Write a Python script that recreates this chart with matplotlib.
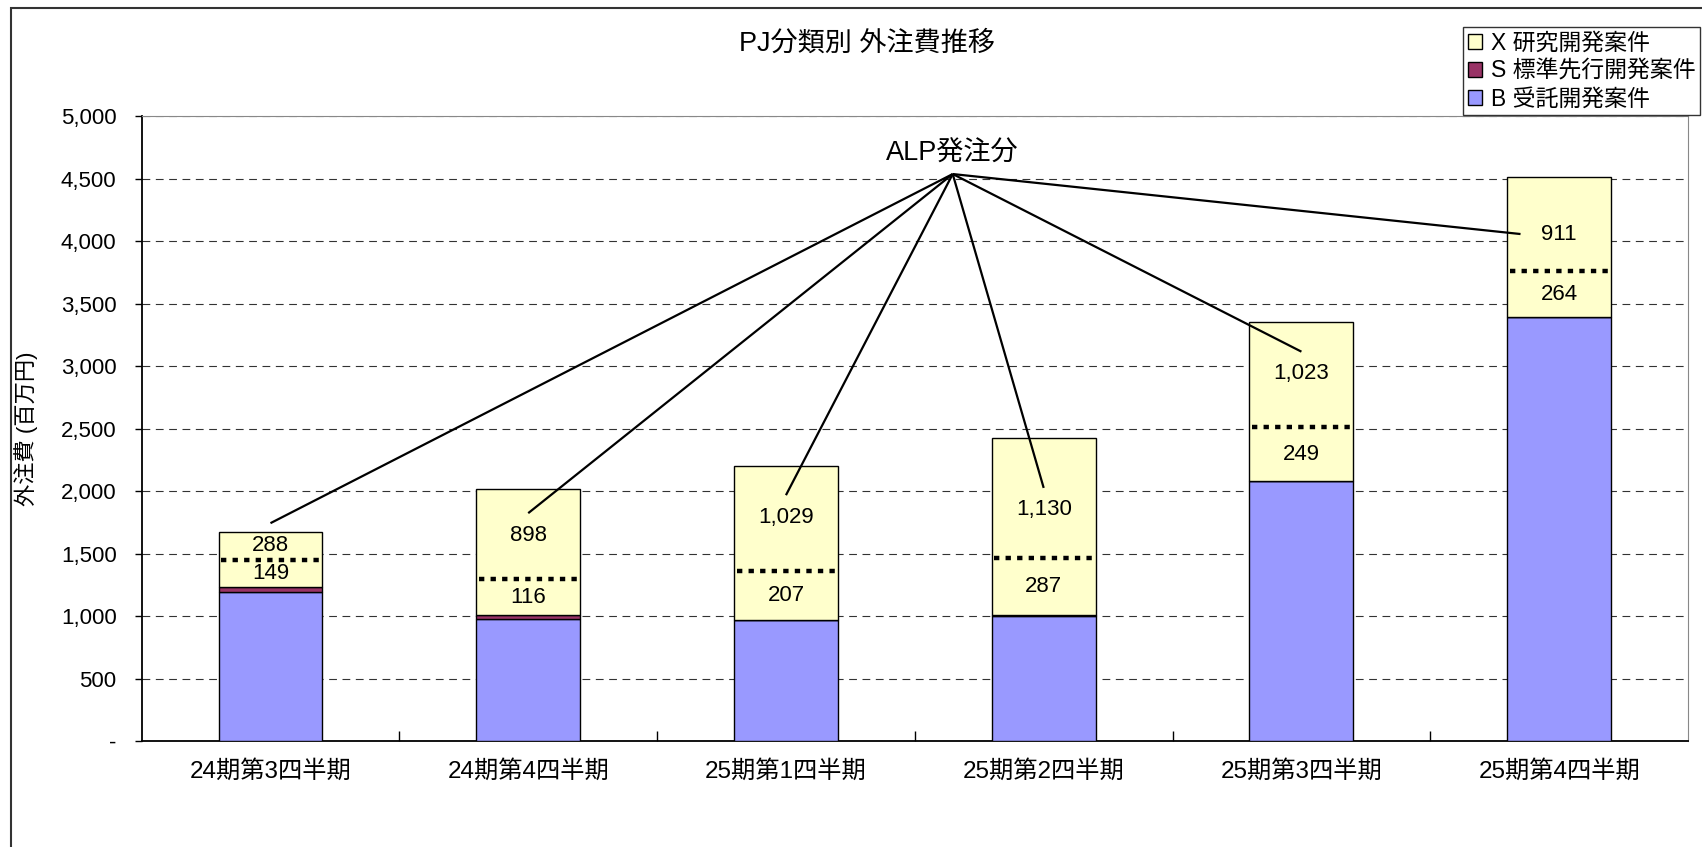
import matplotlib
matplotlib.use('Agg')
import matplotlib.pyplot as plt
from matplotlib.patches import Patch, Rectangle
from matplotlib.ticker import FuncFormatter, FixedLocator

plt.rcParams['font.family'] = ['Liberation Sans', 'Noto Sans CJK JP']

# data (百万円)
categories = ['24期第3四半期', '24期第4四半期', '25期第1四半期',
              '25期第2四半期', '25期第3四半期', '25期第4四半期']
b_values = [1192, 976, 968, 1000, 2080, 3390]   # B 受託開発案件
s_values = [43, 29, 0, 5, 0, 0]                  # S 標準先行開発案件
x_values = [437, 1014, 1236, 1417, 1272, 1122]   # X 研究開発案件
x_other = [149, 116, 207, 287, 249, 264]         # X のうち ALP 以外
x_alp = [288, 898, 1029, 1130, 1023, 911]        # X のうち ALP発注分
split_level = [1448, 1298, 1360, 1466, 2510, 3762]  # 点線の高さ

# annotation layout (data units)
alp_label_y = [1568, 1648, 1792, 1850, 2940, 4056]
ALP_TEXT = (2.647, 4700)
ALP_APEX = (2.647, 4536)

COL_B = '#9999FF'
COL_S = '#993366'
COL_X = '#FFFFCC'
BAR_W = 0.403


def main():
    fig = plt.figure(figsize=(17.02, 8.47), dpi=100)
    ax = fig.add_axes([0.0832, 0.1251, 0.9086, 0.7379])

    pos = range(len(categories))
    s_bottom = b_values
    x_bottom = [b + s for b, s in zip(b_values, s_values)]
    ax.bar(pos, b_values, BAR_W, color=COL_B, edgecolor='black', lw=1, zorder=3)
    ax.bar(pos, s_values, BAR_W, bottom=s_bottom, color=COL_S, edgecolor='black', lw=1, zorder=3)
    ax.bar(pos, x_values, BAR_W, bottom=x_bottom, color=COL_X, edgecolor='black', lw=1, zorder=3)

    # dotted split line + labels inside X segment
    for i in pos:
        ax.hlines(split_level[i], i - BAR_W / 2 + 0.01, i + BAR_W / 2 - 0.01, colors='black',
                  lw=3.2, linestyles=(0, (1.2, 1.4)), zorder=4)
        low_mid = (x_bottom[i] + split_level[i]) / 2
        ax.text(i, low_mid, f'{x_other[i]:,}', ha='center', va='center', fontsize=16, zorder=5)
        ax.text(i, alp_label_y[i], f'{x_alp[i]:,}', ha='center', va='center', fontsize=16, zorder=5)

    # ALP leader lines
    for i in pos:
        if i == len(categories) - 1:
            end = (i - 0.15, alp_label_y[i])
        else:
            end = (i, alp_label_y[i] + 175)
        ax.plot([ALP_APEX[0], end[0]], [ALP_APEX[1], end[1]], color='black', lw=1.6, zorder=6,
                solid_capstyle='butt')
    ax.text(ALP_TEXT[0], ALP_TEXT[1], 'ALP発注分', ha='center', va='center', fontsize=19.5)

    # axes
    ax.set_xlim(-0.5, 5.5)
    ax.set_ylim(0, 5000)
    ax.set_yticks(range(0, 5001, 500))
    ax.yaxis.set_major_formatter(FuncFormatter(lambda v, p: '-' if v == 0 else f'{v:,.0f}'))
    ax.tick_params(axis='y', direction='out', length=5, width=1, pad=13, labelsize=16)
    ax.yaxis.grid(True, linestyle=(0, (7, 5)), color='#333333', lw=0.8, zorder=0)
    ax.set_axisbelow(True)

    ax.xaxis.set_major_locator(FixedLocator([i + 0.5 for i in range(5)]))
    ax.xaxis.set_minor_locator(FixedLocator(list(pos)))
    ax.set_xticklabels([])
    ax.set_xticklabels(categories, minor=True)
    ax.tick_params(axis='x', which='major', direction='in', length=7, width=1)
    ax.tick_params(axis='x', which='minor', length=0, pad=14, labelsize=17.5)

    for side in ('top', 'right'):
        ax.spines[side].set_color('#888888')
    for side in ('left', 'bottom'):
        ax.spines[side].set_color('black')
        ax.spines[side].set_linewidth(1.3)

    ax.set_ylabel('外注費 (百万円)', fontsize=16)
    ax.yaxis.set_label_coords(-0.067, 0.5)

    fig.text(867 / 1702, 1 - 44 / 847, 'PJ分類別 外注費推移', ha='center', va='center', fontsize=19.5)

    handles = [Patch(facecolor=COL_X, edgecolor='black', label='X 研究開発案件'),
               Patch(facecolor=COL_S, edgecolor='black', label='S 標準先行開発案件'),
               Patch(facecolor=COL_B, edgecolor='black', label='B 受託開発案件')]
    leg = fig.legend(handles=handles, loc='upper right', bbox_to_anchor=(1700 / 1702, 1 - 27 / 847),
                     fontsize=16.5, frameon=True, fancybox=False, handlelength=0.6, handleheight=0.6,
                     handletextpad=0.4, labelspacing=0.22, borderpad=0.2, borderaxespad=0)
    leg.get_frame().set_edgecolor('black')
    leg.get_frame().set_linewidth(1)

    # outer chart frame
    fig.add_artist(Rectangle((11 / 1702, -0.1), 1.2, 1.1 - 8 / 847, transform=fig.transFigure,
                             fill=False, lw=1.5, edgecolor='#333333'))

    fig.savefig('out.png', dpi=100)


if __name__ == '__main__':
    main()
